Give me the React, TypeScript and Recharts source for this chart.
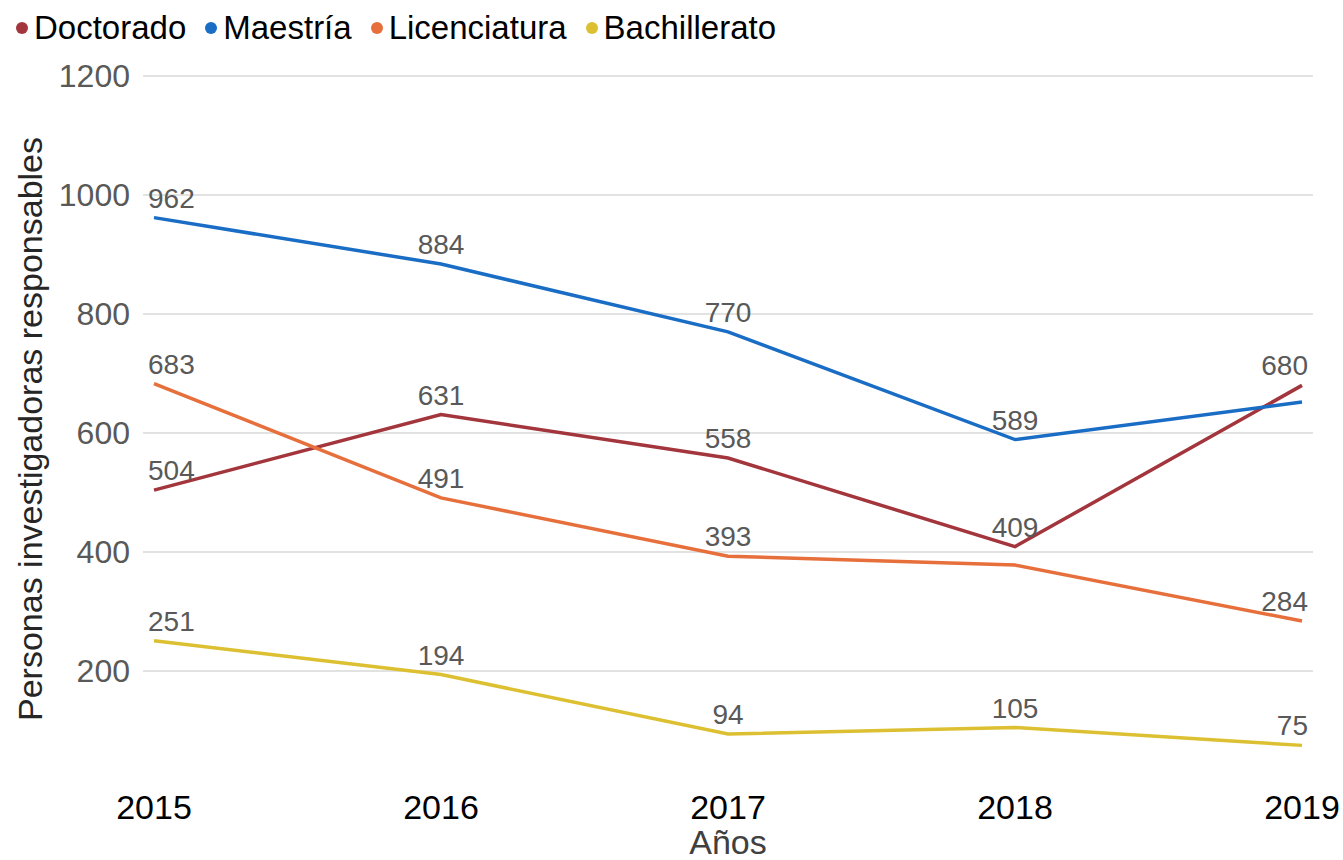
import React from "react";
import {
  LineChart,
  Line,
  XAxis,
  YAxis,
  CartesianGrid,
  Legend,
  LabelList,
} from "recharts";

const years = ["2015", "2016", "2017", "2018", "2019"];
const doctorado = [504, 631, 558, 409, 680];
const maestria = [962, 884, 770, 589, 652];
const licenciatura = [683, 491, 393, 378, 284];
const bachillerato = [251, 194, 94, 105, 75];
const yTicks = [200, 400, 600, 800, 1000, 1200];

// indices without a data label in the original
const hiddenLabels: Record<string, number[]> = {
  doctorado: [],
  maestria: [4],
  licenciatura: [3],
  bachillerato: [],
};

const series = [
  { key: "doctorado", name: "Doctorado", color: "#a3353c" },
  { key: "maestria", name: "Maestría", color: "#1a6dc5" },
  { key: "licenciatura", name: "Licenciatura", color: "#e66f3b" },
  { key: "bachillerato", name: "Bachillerato", color: "#dcc031" },
];

const data = years.map((year, i) => ({
  year,
  doctorado: doctorado[i],
  maestria: maestria[i],
  licenciatura: licenciatura[i],
  bachillerato: bachillerato[i],
}));

const FONT = '"Liberation Sans", Arial, sans-serif';

function makeLabel(key: string) {
  return (props: any) => {
    const { index, value } = props;
    if (hiddenLabels[key].includes(index)) return null;
    const x = props.x ?? props.viewBox?.x;
    const y = props.y ?? props.viewBox?.y;
    let anchor: "start" | "middle" | "end" = "middle";
    let tx = x;
    if (index === 0) {
      anchor = "start";
      tx = x - 6;
    } else if (index === years.length - 1) {
      anchor = "end";
      tx = x + 6;
    }
    return (
      <text
        x={tx}
        y={y - 10}
        textAnchor={anchor}
        fill="#595959"
        fontSize={28}
        fontFamily={FONT}
      >
        {value}
      </text>
    );
  };
}

function LegendContent() {
  return (
    <div style={{ display: "flex", alignItems: "center", fontFamily: FONT, height: 36 }}>
      {series.map((s) => (
        <div key={s.key} style={{ display: "flex", alignItems: "center", marginRight: 19 }}>
          <span
            style={{
              width: 12,
              height: 12,
              borderRadius: 6,
              background: s.color,
              marginRight: 6,
              display: "inline-block",
            }}
          />
          <span style={{ fontSize: 33, color: "#000" }}>{s.name}</span>
        </div>
      ))}
    </div>
  );
}

export default function App() {
  return (
    <div style={{ position: "absolute", left: 0, top: 0, width: 1343, height: 860, background: "#fff" }}>
      <LineChart
        width={1343}
        height={860}
        data={data}
        margin={{ top: 40, right: 30, left: 0, bottom: 0 }}
      >
        <CartesianGrid
          stroke="#d9d9d9"
          strokeWidth={1.5}
          vertical={false}
          horizontalValues={yTicks}
        />
        <XAxis
          dataKey="year"
          height={70}
          axisLine={false}
          tickLine={false}
          tickSize={0}
          tickMargin={5}
          padding={{ left: 11, right: 11 }}
          tick={{ fill: "#000", fontSize: 34, fontFamily: FONT }}
          label={{
            content: ({ viewBox }: any) => (
              <text
                x={viewBox.x + viewBox.width / 2}
                y={viewBox.y + 64}
                textAnchor="middle"
                fill="#404040"
                fontSize={34}
                fontFamily={FONT}
              >
                Años
              </text>
            ),
          }}
        />
        <YAxis
          width={143}
          domain={[0, 1200]}
          ticks={yTicks}
          axisLine={false}
          tickLine={false}
          tickSize={0}
          tickMargin={13}
          tick={{ fill: "#595959", fontSize: 32, fontFamily: FONT }}
          label={{
            content: ({ viewBox }: any) => {
              const cx = 30;
              const cy = viewBox.y + viewBox.height / 2 - 4;
              return (
                <text
                  x={cx}
                  y={cy}
                  transform={`rotate(-90, ${cx}, ${cy})`}
                  textAnchor="middle"
                  dominantBaseline="central"
                  fill="#262626"
                  fontSize={34}
                  fontFamily={FONT}
                >
                  Personas investigadoras responsables
                </text>
              );
            },
          }}
        />
        <Legend
          verticalAlign="top"
          align="left"
          content={LegendContent}
          wrapperStyle={{ top: 10, left: 16 }}
        />
        {series.map((s) => (
          <Line
            key={s.key}
            type="linear"
            dataKey={s.key}
            name={s.name}
            stroke={s.color}
            strokeWidth={3.5}
            dot={false}
            isAnimationActive={false}
          >
            <LabelList dataKey={s.key} content={makeLabel(s.key)} />
          </Line>
        ))}
      </LineChart>
    </div>
  );
}
